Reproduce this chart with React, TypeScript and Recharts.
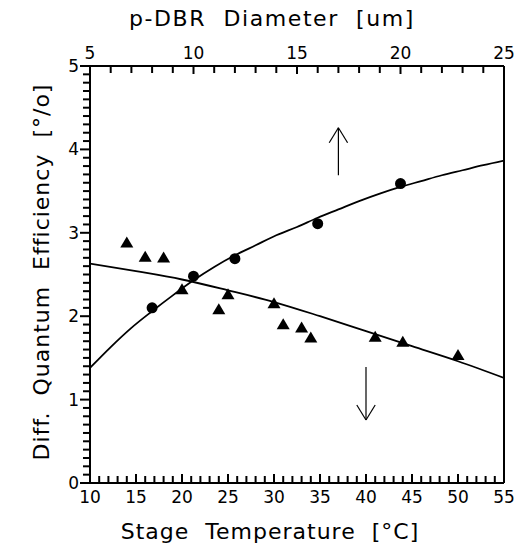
import React from 'react';
import { ComposedChart, XAxis, YAxis, Scatter, Line, ReferenceLine } from 'recharts';

// Circles: efficiency vs p-DBR diameter (top axis)
const diameterValues = [8, 10, 12, 16, 20];
const diameterEfficiency = [2.1, 2.48, 2.69, 3.11, 3.59];

// Triangles: efficiency vs stage temperature (bottom axis)
const temperatureValues = [14, 16, 18, 20, 24, 25, 30, 31, 33, 34, 41, 44, 50];
const temperatureEfficiency = [2.89, 2.72, 2.71, 2.33, 2.09, 2.27, 2.16, 1.91, 1.87, 1.75, 1.76, 1.7, 1.54];

// Fitted curve (diameter)
const diameterCurveX = [5, 6, 7, 8, 9, 10, 11, 12, 13, 14, 15, 16, 17, 18, 19, 20, 21, 22, 23, 24, 25];
const diameterCurveY = [1.38, 1.63, 1.86, 2.06, 2.25, 2.43, 2.59, 2.73, 2.85, 2.97, 3.07, 3.18, 3.28, 3.38, 3.47, 3.55, 3.62, 3.69, 3.75, 3.81, 3.865];

// Fitted curve (temperature)
const temperatureCurveX = [10, 15, 20, 25, 30, 35, 40, 45, 50, 55];
const temperatureCurveY = [2.63, 2.54, 2.44, 2.31, 2.17, 2.0, 1.82, 1.64, 1.46, 1.26];

// Axis ticks
const bottomTicks = Array.from({ length: 46 }, (_, i) => 10 + i);
const topTicks = Array.from({ length: 21 }, (_, i) => 5 + i);
const leftTicks = Array.from({ length: 51 }, (_, i) => i / 10);

// Titles
const bottomTitle = 'Stage  Temperature  [°C]';
const topTitle = 'p-DBR  Diameter  [um]';
const leftTitle = 'Diff.  Quantum  Efficiency  [°/o]';

const FONT = '"DejaVu Sans", sans-serif';

const circleData = diameterValues.map((d, i) => ({ d, v: diameterEfficiency[i] }));
const triangleData = temperatureValues.map((t, i) => ({ t, v: temperatureEfficiency[i] }));
const diameterCurve = diameterCurveX.map((d, i) => ({ d, v: diameterCurveY[i] }));
const temperatureCurve = temperatureCurveX.map((t, i) => ({ t, v: temperatureCurveY[i] }));

const BottomTick = (props: any) => {
  const { x, y, payload } = props;
  const v = payload.value;
  const major = v % 5 === 0;
  const len = major ? 9 : 7;
  return (
    <g>
      <line x1={x} x2={x} y1={y} y2={y - len} stroke="#000" strokeWidth={2} />
      {major && (
        <text x={x} y={y + 20} textAnchor="middle" fontSize={17} fontFamily={FONT} fill="#000">
          {v}
        </text>
      )}
    </g>
  );
};

const TopTick = (props: any) => {
  const { x, y, payload } = props;
  const v = payload.value;
  const major = v % 5 === 0;
  const len = major ? 8 : 7;
  return (
    <g>
      <line x1={x} x2={x} y1={y} y2={y + len} stroke="#000" strokeWidth={2} />
      {major && (
        <text x={x} y={y - 7} textAnchor="middle" fontSize={17} fontFamily={FONT} fill="#000">
          {v}
        </text>
      )}
    </g>
  );
};

const LeftTick = (props: any) => {
  const { x, y, payload } = props;
  const v = payload.value;
  const major = Math.round(v * 10) % 10 === 0;
  const len = major ? 10 : 7;
  return (
    <g>
      <line x1={x} x2={x - len} y1={y} y2={y} stroke="#000" strokeWidth={2} />
      {major && (
        <text x={x - 11} y={y + 6} textAnchor="end" fontSize={17} fontFamily={FONT} fill="#000">
          {Math.round(v)}
        </text>
      )}
    </g>
  );
};

const CircleShape = (props: any) => {
  const { cx, cy } = props;
  if (cx == null || cy == null) return null;
  return <circle cx={cx} cy={cy} r={5.5} fill="#000" />;
};

const TriangleShape = (props: any) => {
  const { cx, cy } = props;
  if (cx == null || cy == null) return null;
  const w = 6.5;
  const h = 11;
  return (
    <polygon
      points={`${cx},${cy - h / 2} ${cx - w},${cy + h / 2} ${cx + w},${cy + h / 2}`}
      fill="#000"
    />
  );
};

const titleBase: React.CSSProperties = {
  position: 'absolute',
  fontFamily: FONT,
  fontSize: 22,
  color: '#000',
  whiteSpace: 'pre',
  letterSpacing: '1px',
  lineHeight: '26px',
  textAlign: 'center',
};

export default function App() {
  return (
    <div style={{ position: 'absolute', left: 0, top: 0, width: 517, height: 556, background: '#fff' }}>
      <ComposedChart width={517} height={556} margin={{ top: 65, right: 13, bottom: 0, left: 0 }}>
        <XAxis
          xAxisId="bottom"
          dataKey="t"
          type="number"
          domain={[10, 55]}
          allowDataOverflow
          ticks={bottomTicks}
          interval={0}
          tickSize={0}
          tickMargin={0}
          tickLine={false}
          tick={<BottomTick />}
          height={73}
          axisLine={{ stroke: '#000', strokeWidth: 2 }}
        />
        <XAxis
          xAxisId="top"
          orientation="top"
          dataKey="d"
          type="number"
          domain={[5, 25]}
          allowDataOverflow
          ticks={topTicks}
          interval={0}
          tickSize={0}
          tickMargin={0}
          tickLine={false}
          tick={<TopTick />}
          height={1}
          axisLine={{ stroke: '#000', strokeWidth: 2 }}
        />
        <YAxis
          yAxisId="y"
          dataKey="v"
          type="number"
          domain={[0, 5]}
          ticks={leftTicks}
          interval={0}
          tickSize={0}
          tickMargin={0}
          tickLine={false}
          tick={<LeftTick />}
          width={90}
          axisLine={{ stroke: '#000', strokeWidth: 2 }}
        />
        <ReferenceLine xAxisId="bottom" yAxisId="y" x={55} stroke="#000" strokeWidth={2} />

        <Line
          data={temperatureCurve}
          xAxisId="bottom"
          yAxisId="y"
          dataKey="v"
          type="monotone"
          dot={false}
          stroke="#000"
          strokeWidth={1.8}
          isAnimationActive={false}
        />
        <Line
          data={diameterCurve}
          xAxisId="top"
          yAxisId="y"
          dataKey="v"
          type="monotone"
          dot={false}
          stroke="#000"
          strokeWidth={1.8}
          isAnimationActive={false}
        />
        <Scatter data={triangleData} xAxisId="bottom" yAxisId="y" shape={<TriangleShape />} isAnimationActive={false} />
        <Scatter data={circleData} xAxisId="top" yAxisId="y" shape={<CircleShape />} isAnimationActive={false} />

        {/* Up arrow */}
        <ReferenceLine xAxisId="bottom" yAxisId="y" segment={[{ x: 37, y: 4.26 }, { x: 37, y: 3.69 }]} stroke="#000" strokeWidth={1.2} />
        <ReferenceLine xAxisId="bottom" yAxisId="y" segment={[{ x: 37, y: 4.26 }, { x: 36, y: 4.08 }]} stroke="#000" strokeWidth={1.2} />
        <ReferenceLine xAxisId="bottom" yAxisId="y" segment={[{ x: 37, y: 4.26 }, { x: 38, y: 4.08 }]} stroke="#000" strokeWidth={1.2} />
        {/* Down arrow */}
        <ReferenceLine xAxisId="bottom" yAxisId="y" segment={[{ x: 40, y: 1.39 }, { x: 40, y: 0.755 }]} stroke="#000" strokeWidth={1.2} />
        <ReferenceLine xAxisId="bottom" yAxisId="y" segment={[{ x: 40, y: 0.755 }, { x: 39, y: 0.935 }]} stroke="#000" strokeWidth={1.2} />
        <ReferenceLine xAxisId="bottom" yAxisId="y" segment={[{ x: 40, y: 0.755 }, { x: 41, y: 0.935 }]} stroke="#000" strokeWidth={1.2} />
      </ComposedChart>
      <div style={{ ...titleBase, left: 72, width: 400, top: 6, letterSpacing: '1.6px' }}>{topTitle}</div>
      <div style={{ ...titleBase, left: 70, width: 400, top: 519 }}>{bottomTitle}</div>
      <div
        style={{
          ...titleBase,
          left: 42 - 250,
          width: 500,
          top: 272 - 13,
          transform: 'rotate(-90deg)',
          transformOrigin: '50% 50%',
        }}
      >
        {leftTitle}
      </div>
    </div>
  );
}
